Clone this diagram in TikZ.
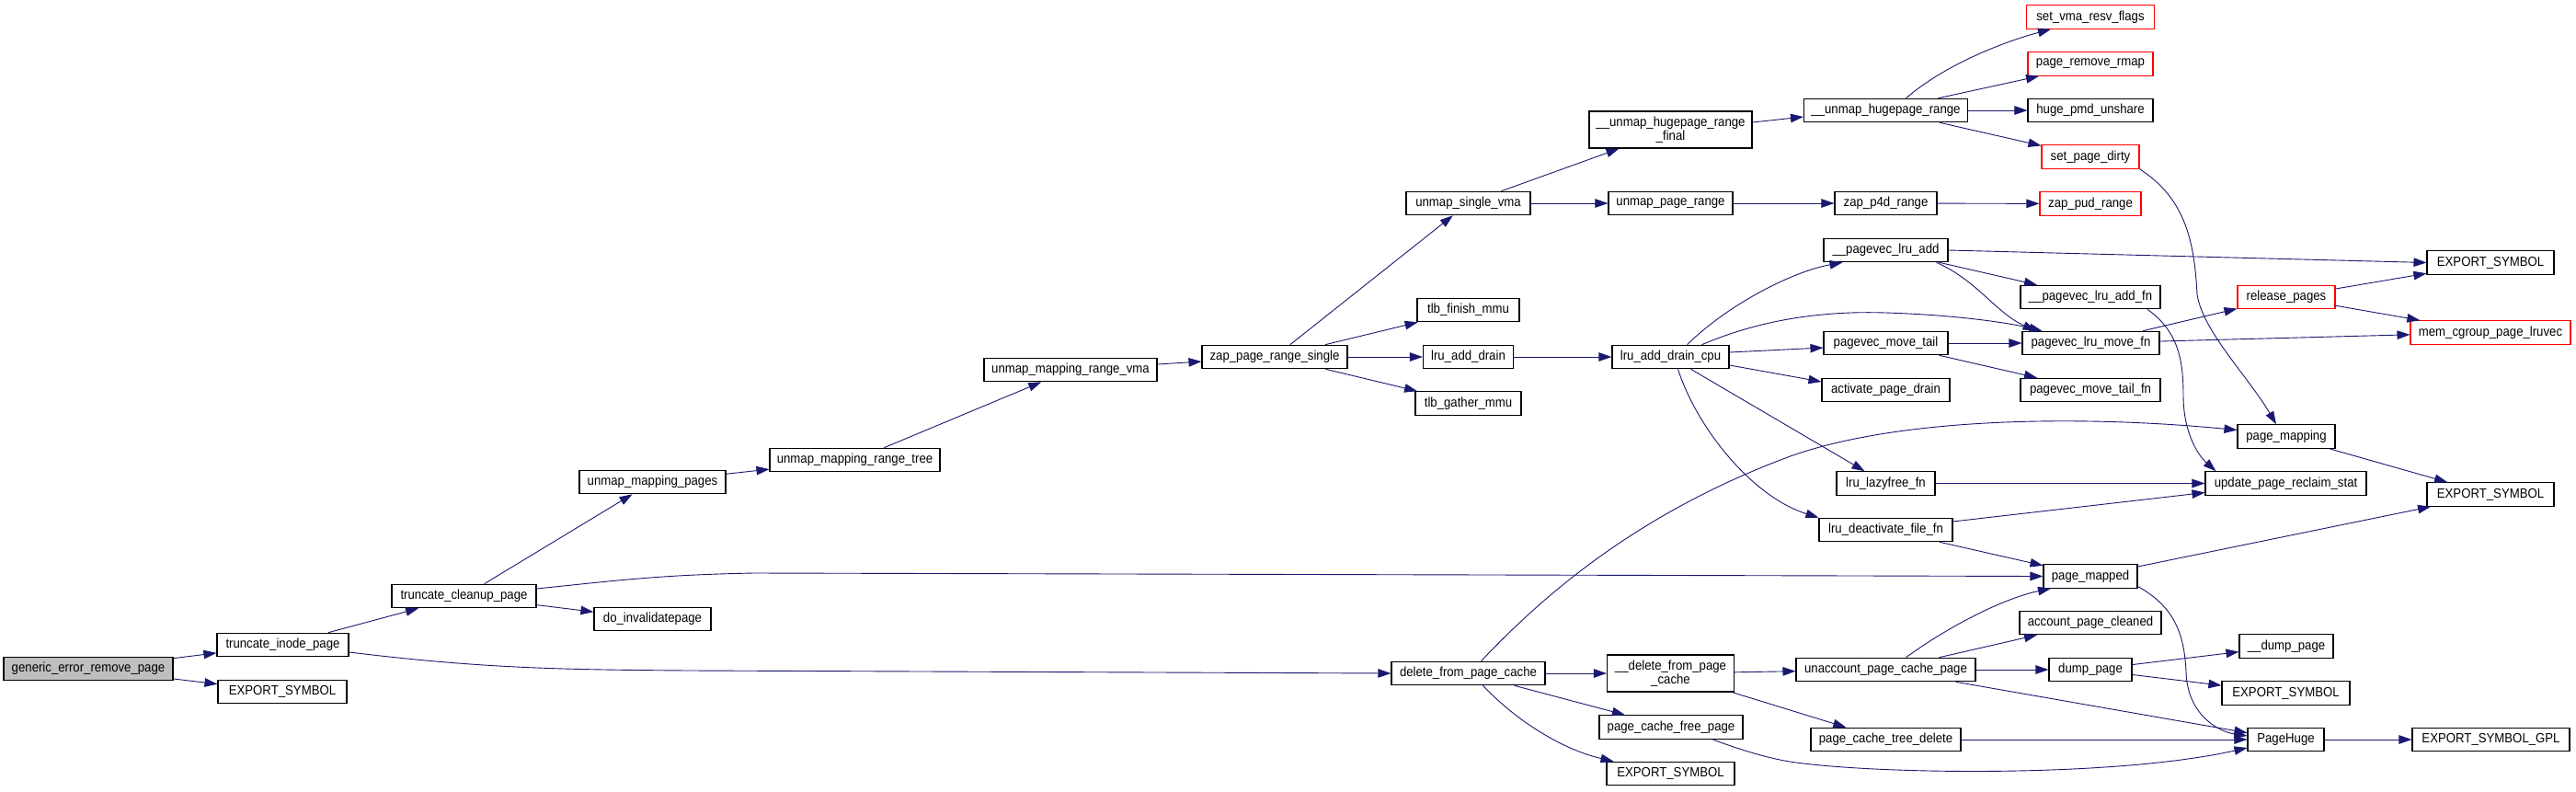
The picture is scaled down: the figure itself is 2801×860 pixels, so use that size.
\documentclass[tikz,border=0pt]{standalone}
\usepackage{fontspec}
\usetikzlibrary{arrows.meta}
\newfontfamily\nf[FakeStretch=0.91]{Liberation Sans}
\definecolor{edgec}{HTML}{191970}
\definecolor{redb}{HTML}{FF0000}
\definecolor{rootfill}{HTML}{BFBFBF}
\tikzset{
 box/.style={draw=black, line width=1.1pt, minimum height=25.5pt, inner xsep=2pt, inner ysep=0pt, font=\nf\fontsize{14.5}{15}\selectfont, text=black, fill=white},
 rbox/.style={box, draw=redb},
 tall/.style={minimum height=40pt, align=center},
 edge/.style={draw=edgec, line width=0.9pt, -{Triangle[length=14pt,width=9.5pt]}},
}
\begin{document}
\begin{tikzpicture}[x=1pt,y=-1pt]
\fill[white] (0,0) rectangle (2801,860);
\useasboundingbox (0,0) rectangle (2801,860);
% nodes
\node[box, fill=rootfill, minimum width=184pt] (gerp) at (96,727) {generic\_error\_remove\_page};
\node[box, minimum width=143pt] (tip) at (307.5,701) {truncate\_inode\_page};
\node[box, minimum width=140pt] (es1) at (307,752) {EXPORT\_SYMBOL};
\node[box, minimum width=157pt] (tcp) at (504.5,648) {truncate\_cleanup\_page};
\node[box, minimum width=127pt] (dip) at (709.5,673) {do\_invalidatepage};
\node[box, minimum width=159pt] (ump) at (709.5,524) {unmap\_mapping\_pages};
\node[box, minimum width=185pt] (umrt) at (929.5,500) {unmap\_mapping\_range\_tree};
\node[box, minimum width=188pt] (umrv) at (1164,402) {unmap\_mapping\_range\_vma};
\node[box, minimum width=158pt] (zprs) at (1386,388) {zap\_page\_range\_single};
\node[box, minimum width=135pt] (usv) at (1596.5,221) {unmap\_single\_vma};
\node[box, minimum width=111pt] (tfm) at (1596.5,337) {tlb\_finish\_mmu};
\node[box, minimum width=98pt] (lad) at (1596.5,388) {lru\_add\_drain};
\node[box, minimum width=115pt] (tgm) at (1596.5,438.5) {tlb\_gather\_mmu};
\node[box, minimum width=167pt] (dfpc) at (1596.5,732) {delete\_from\_page\_cache};
\node[box, tall, minimum width=177pt] (uhrf) at (1816.5,141) {\_\_unmap\_hugepage\_range\\\_final};
\node[box, minimum width=135pt] (upr) at (1816.5,221) {unmap\_page\_range};
\node[box, minimum width=127pt] (ladc) at (1816.5,388) {lru\_add\_drain\_cpu};
\node[box, tall, minimum width=138pt] (dfpcb) at (1816.5,732) {\_\_delete\_from\_page\\\_cache};
\node[box, minimum width=156pt] (pcfp) at (1817,790.5) {page\_cache\_free\_page};
\node[box, minimum width=139pt] (es2) at (1816.5,841) {EXPORT\_SYMBOL};
\node[box, minimum width=178pt] (uhr) at (2050.5,120) {\_\_unmap\_hugepage\_range};
\node[box, minimum width=111pt] (zpf) at (2050.5,221) {zap\_p4d\_range};
\node[box, minimum width=135pt] (plra) at (2050.5,272) {\_\_pagevec\_lru\_add};
\node[box, minimum width=135pt] (pmt) at (2050.5,373) {pagevec\_move\_tail};
\node[box, minimum width=139pt] (apd) at (2050.5,424) {activate\_page\_drain};
\node[box, minimum width=107pt] (llf) at (2050.5,525.5) {lru\_lazyfree\_fn};
\node[box, minimum width=145pt] (ldff) at (2050.5,576) {lru\_deactivate\_file\_fn};
\node[box, minimum width=195pt] (upcp) at (2050.5,728) {unaccount\_page\_cache\_page};
\node[box, minimum width=163pt] (pctd) at (2050.5,804) {page\_cache\_tree\_delete};
\node[rbox, minimum width=139pt] (svrf) at (2273,18.5) {set\_vma\_resv\_flags};
\node[rbox, minimum width=136pt] (prr) at (2273,69.5) {page\_remove\_rmap};
\node[box, minimum width=136pt] (hpu) at (2273,120) {huge\_pmd\_unshare};
\node[rbox, minimum width=106pt] (spd) at (2273,170.5) {set\_page\_dirty};
\node[rbox, minimum width=110pt] (zpud) at (2273,221.5) {zap\_pud\_range};
\node[box, minimum width=152pt] (plaf) at (2273,323) {\_\_pagevec\_lru\_add\_fn};
\node[box, minimum width=149pt] (plmf) at (2273.5,373) {pagevec\_lru\_move\_fn};
\node[box, minimum width=152pt] (pmtf) at (2273,424) {pagevec\_move\_tail\_fn};
\node[box, minimum width=102pt] (pmd) at (2273,626.5) {page\_mapped};
\node[box, minimum width=154pt] (apc) at (2273,677) {account\_page\_cleaned};
\node[box, minimum width=90pt] (dp) at (2273,728) {dump\_page};
\node[rbox, minimum width=106pt] (rp) at (2486,323) {release\_pages};
\node[box, minimum width=106pt] (pmap) at (2486,474.5) {page\_mapping};
\node[box, minimum width=175pt] (uprs) at (2485.5,525.5) {update\_page\_reclaim\_stat};
\node[box, minimum width=102pt] (dmp) at (2486,702.5) {\_\_dump\_page};
\node[box, minimum width=139pt] (es3) at (2485.5,753.5) {EXPORT\_SYMBOL};
\node[box, minimum width=83pt] (ph) at (2485.5,804) {PageHuge};
\node[box, minimum width=138pt] (es4) at (2708,285.5) {EXPORT\_SYMBOL};
\node[rbox, minimum width=174pt] (mcpl) at (2708,361.5) {mem\_cgroup\_page\_lruvec};
\node[box, minimum width=138pt] (es5) at (2708,537.5) {EXPORT\_SYMBOL};
\node[box, minimum width=171pt] (esg) at (2708.5,804) {EXPORT\_SYMBOL\_GPL};
% edges
\draw[edge] (gerp) -- (tip);
\draw[edge] (gerp) -- (es1);
\draw[edge] (tip) -- (tcp);
\draw[edge] ([yshift=-8pt]tip.east) .. controls (520,726) and (600,728) .. (750,729) -- (dfpc.west);
\draw[edge] (tcp) -- (ump);
\draw[edge] (tcp) -- (dip);
\draw[edge] ([yshift=8pt]tcp.east) .. controls (680,630) and (720,625) .. (820,623) -- (pmd.west);
\draw[edge] (ump) -- (umrt);
\draw[edge] (umrt) -- (umrv);
\draw[edge] (umrv) -- (zprs);
\draw[edge] (zprs) -- (usv);
\draw[edge] (zprs) -- (tfm);
\draw[edge] (zprs) -- (lad);
\draw[edge] (zprs) -- (tgm);
\draw[edge] ([xshift=36pt]usv.north) -- ([xshift=-56pt]uhrf.south);
\draw[edge] (usv) -- (upr);
\draw[edge] ([yshift=8pt]uhrf.east) -- ([yshift=-7pt]uhr.west);
\draw[edge] (upr) -- (zpf);
\draw[edge] (zpf) -- (zpud);
\draw[edge] ([xshift=22pt]uhr.north) .. controls (2115,70) and (2180,45) .. ([xshift=-43pt]svrf.south);
\draw[edge] ([xshift=57pt]uhr.north) -- ([xshift=-56pt]prr.south);
\draw[edge] (uhr) -- (hpu);
\draw[edge] (uhr) -- (spd);
\draw[edge] (spd.south east) .. controls (2375,215) and (2386,260) .. (2389,320) .. controls (2395,360) and (2445,410) .. ([xshift=-11pt]pmap.north);
\draw[edge] (lad) -- (ladc);
\draw[edge] ([xshift=18pt]ladc.north) .. controls (1880,330) and (1950,295) .. ([xshift=-47pt]plra.south);
\draw[edge] ([xshift=34pt]ladc.north) .. controls (1920,345) and (1990,338) .. (2050,340) .. controls (2120,342) and (2180,350) .. ([xshift=-53pt]plmf.north);
\draw[edge] ([yshift=5pt]ladc.east) -- ([yshift=-5pt]pmt.west);
\draw[edge] ([yshift=-9pt]ladc.east) -- ([yshift=9pt]apd.west);
\draw[edge] ([xshift=22pt]ladc.south) -- ([xshift=-23pt]llf.north);
\draw[edge] ([xshift=8pt]ladc.south) .. controls (1845,465) and (1905,540) .. (ldff.north west);
\draw[edge] (plra.east) -- (es4.west);
\draw[edge] (plra) -- (plaf);
\draw[edge] ([xshift=55pt]plra.south) .. controls (2150,305) and (2170,340) .. ([xshift=-60pt]plmf.north);
\draw[edge] (pmt) -- (plmf);
\draw[edge] (pmt) -- (pmtf);
\draw[edge] (plmf) -- (rp);
\draw[edge] (plmf) -- (mcpl);
\draw[edge] (rp) -- (es4);
\draw[edge] (rp) -- (mcpl);
\draw[edge] ([xshift=62pt]plaf.south) .. controls (2368,360) and (2374,390) .. (2374,430) .. controls (2374,470) and (2390,495) .. ([xshift=-76pt]uprs.north);
\draw[edge] (llf) -- (uprs);
\draw[edge] ([yshift=9pt]ldff.east) -- ([yshift=-10pt]uprs.west);
\draw[edge] (ldff) -- (pmd);
\draw[edge] (pmap) -- (es5);
\draw[edge] (pmd) -- (es5);
\draw[edge] ([yshift=-11pt]pmd.east) .. controls (2365,660) and (2375,690) .. (2377,730) .. controls (2378,775) and (2410,795) .. ([yshift=4pt]ph.west);
\draw[edge] ([xshift=14pt]dfpc.north) .. controls (1680,645) and (1780,560) .. (1936,500) .. controls (2050,455) and (2250,450) .. ([yshift=7pt]pmap.west);
\draw[edge] (dfpc) -- (dfpcb);
\draw[edge] (dfpc) -- (pcfp);
\draw[edge] ([xshift=16pt]dfpc.south) .. controls (1650,785) and (1700,815) .. ([xshift=-62pt]es2.north);
\draw[edge] (dfpcb) -- (upcp);
\draw[edge] (dfpcb) -- (pctd);
\draw[edge] ([xshift=22pt]upcp.north) .. controls (2120,680) and (2180,650) .. ([xshift=-43pt]pmd.south);
\draw[edge] (upcp) -- (apc);
\draw[edge] (upcp) -- (dp);
\draw[edge] (upcp) -- (ph);
\draw[edge] (dp) -- (dmp);
\draw[edge] (dp) -- (es3);
\draw[edge] (pctd) -- (ph);
\draw[edge] ([xshift=45pt]pcfp.south) .. controls (1900,818) and (1930,826) .. (1953,829) .. controls (2050,842) and (2300,845) .. ([yshift=-9pt]ph.west);
\draw[edge] (ph) -- (esg);
\end{tikzpicture}
\end{document}
